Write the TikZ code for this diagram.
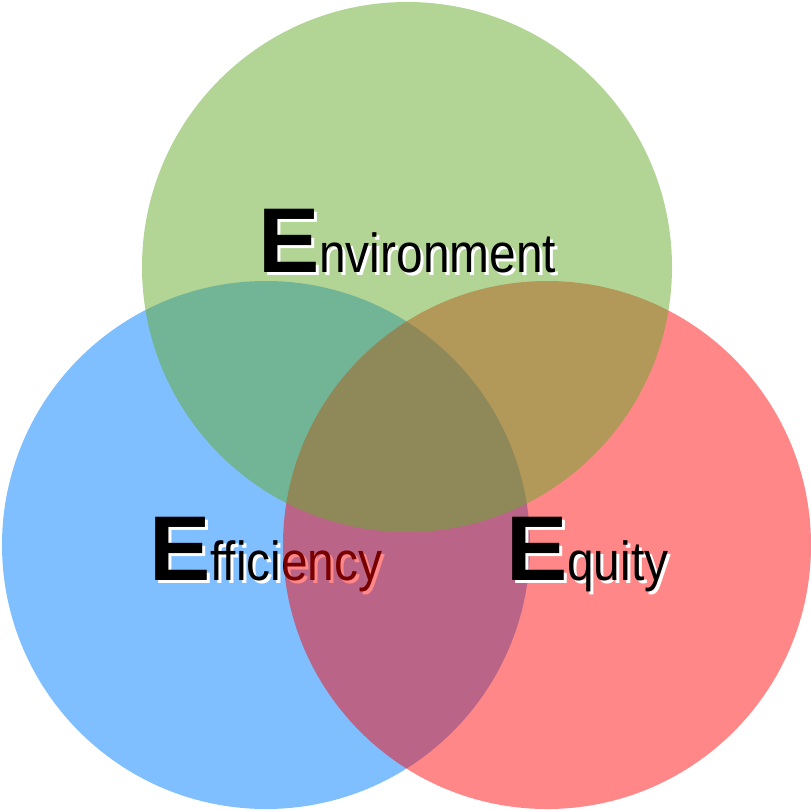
\documentclass[tikz,border=0pt]{standalone}
\usepackage{fontspec}
\setmainfont{Liberation Sans}
\newfontfamily\narrowfont[FakeStretch=0.87]{Liberation Sans}
\definecolor{cblue}{RGB}{0,128,255}
\definecolor{cred}{RGB}{255,0,0}
\definecolor{cgreen}{RGB}{101,171,45}
\tikzset{
  disc/.style={circle, draw=none, inner sep=0pt, minimum size=528pt},
  word/.style={anchor=base west, inner sep=0pt, outer sep=0pt, text=black},
  shade/.style={word, text=white},
}
\newcommand{\BigE}{{\fontsize{92}{92}\selectfont\bfseries E}}
\newcommand{\Rest}[1]{{\fontsize{55}{55}\narrowfont #1}}
\begin{document}
\begin{tikzpicture}[x=1pt,y=-1pt]
\useasboundingbox (0,0) rectangle (811,811);
\node[disc, fill=cblue, fill opacity=0.5] (blue) at (266,545) {};
\node[shade] (effs) at (152,583) {\BigE\Rest{fficiency}};
\node[word] (eff) at (149,580) {\BigE\Rest{fficiency}};
\node[disc, fill=cred, fill opacity=0.47] (red) at (547,545) {};
\node[disc, minimum size=530pt, fill=cgreen, fill opacity=0.5] (green) at (407,267) {};
\node[shade] (equs) at (509,583) {\BigE\Rest{quity}};
\node[word] (equ) at (506,580) {\BigE\Rest{quity}};
\node[shade] (envs) at (261,275) {\BigE\Rest{nvironment}};
\node[word] (env) at (258,272) {\BigE\Rest{nvironment}};
\end{tikzpicture}
\end{document}
